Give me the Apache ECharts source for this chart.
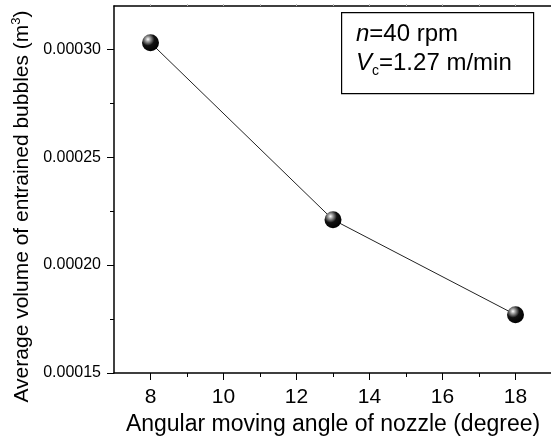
<!DOCTYPE html>
<html><head><meta charset="utf-8">
<script src="https://cdn.jsdelivr.net/npm/echarts@6/dist/echarts.min.js"></script>
<style>html,body{margin:0;padding:0;background:#fff}#c{width:551px;height:444px}</style>
</head><body><div id="c"></div>
<script>
const angles = [8, 13, 18];
const volumes = [0.000303, 0.000221, 0.000177];
const xMajorTicks = [8, 10, 12, 14, 16, 18];
const xMinorTicks = [9, 11, 13, 15, 17];
const yMajorTicks = [0.00015, 0.00020, 0.00025, 0.00030];
const yMinorTicks = [0.000175, 0.000225, 0.000275];
const topTicks = [8, 9, 10, 11, 12, 13, 14, 15, 16, 17, 18];

const font = '"Liberation Sans", Arial, sans-serif';
const chart = echarts.init(document.getElementById('c'), null, {renderer: 'canvas'});
const lineStyle = {color: '#000', width: 1.5};
chart.setOption({
  animation: false,
  grid: {left: 114, top: 6, width: 438, height: 367, containLabel: false, outerBoundsMode: 'none'},
  xAxis: [
    {type: 'value', min: 7, max: 19, position: 'bottom',
     axisLine: {show: true, lineStyle: lineStyle},
     axisTick: {show: true, inside: false, length: 7, lineStyle: {color: '#000', width: 1}, customValues: xMajorTicks},
     axisLabel: {show: true, customValues: xMajorTicks, fontSize: 21, fontFamily: font, color: '#000', margin: 14},
     splitLine: {show: false},
     name: 'Angular moving angle of nozzle (degree)', nameLocation: 'middle', nameGap: 39,
     nameTextStyle: {fontSize: 23, fontFamily: font, color: '#000'}},
    {type: 'value', min: 7, max: 19, position: 'bottom', gridIndex: 0,
     axisLine: {show: false},
     axisTick: {show: true, inside: false, length: 4, lineStyle: {color: '#000', width: 1}, customValues: xMinorTicks},
     axisLabel: {show: false}, splitLine: {show: false}},
    {type: 'value', min: 7, max: 19, position: 'top',
     axisLine: {show: true, lineStyle: lineStyle},
     axisTick: {show: true, inside: false, length: 2, lineStyle: {color: '#bbb', width: 1}, customValues: topTicks},
     axisLabel: {show: false}, splitLine: {show: false}}
  ],
  yAxis: [
    {type: 'value', min: 0.00015, max: 0.00032, position: 'left',
     axisLine: {show: true, lineStyle: lineStyle},
     axisTick: {show: true, inside: false, length: 7, lineStyle: {color: '#000', width: 1}, customValues: yMajorTicks},
     axisLabel: {show: true, customValues: yMajorTicks, fontSize: 16, fontFamily: font, color: '#000', margin: 13,
       formatter: v => v.toFixed(5)},
     splitLine: {show: false},
     name: '{t|Average volume of entrained bubbles (m}{s|3}{t|)}', nameLocation: 'middle', nameRotate: 90, nameGap: 70,
     nameTextStyle: {padding: [0, 34, 0, 0], rich: {t: {fontSize: 21, fontFamily: font, color: '#000'}, s: {fontSize: 13, fontFamily: font, color: '#000', verticalAlign: 'top', padding: [0,0,10,0]}}}},
    {type: 'value', min: 0.00015, max: 0.00032, position: 'left',
     axisLine: {show: false},
     axisTick: {show: true, inside: false, length: 4, lineStyle: {color: '#000', width: 1}, customValues: yMinorTicks},
     axisLabel: {show: false}, splitLine: {show: false}}
  ],
  series: [{
    type: 'line', xAxisIndex: 0, yAxisIndex: 0,
    data: angles.map((a, i) => [a, volumes[i]]),
    lineStyle: {color: '#222', width: 1},
    symbol: 'circle', symbolSize: 17,
    itemStyle: {color: new echarts.graphic.RadialGradient(0.35, 0.3, 0.75, [
      {offset: 0, color: '#ffffff'}, {offset: 0.2, color: '#999'}, {offset: 0.5, color: '#111'}, {offset: 1, color: '#000'}]),
      borderWidth: 0},
    z: 5
  }],
  graphic: [
    {type: 'rect', left: 341, top: 12, shape: {width: 192, height: 81},
     style: {fill: '#fff', stroke: '#000', lineWidth: 1.2}, z: 10},
    {type: 'text', left: 356, top: 22, z: 11,
     style: {text: '{i|n}{r|=40 rpm}', rich: {i: {fontSize: 24, fontFamily: font, fontStyle: 'italic', fill: '#000'}, r: {fontSize: 24, fontFamily: font, fill: '#000'}}}},
    {type: 'text', left: 356, top: 51, z: 11,
     style: {text: '{i|V}{b|c}{r|=1.27 m/min}', rich: {i: {fontSize: 24, fontFamily: font, fontStyle: 'italic', fill: '#000'}, b: {fontSize: 14, fontFamily: font, fill: '#000', verticalAlign: 'bottom', padding: [16,0,0,0]}, r: {fontSize: 24, fontFamily: font, fill: '#000'}}}}
  ]
});
</script></body></html>
